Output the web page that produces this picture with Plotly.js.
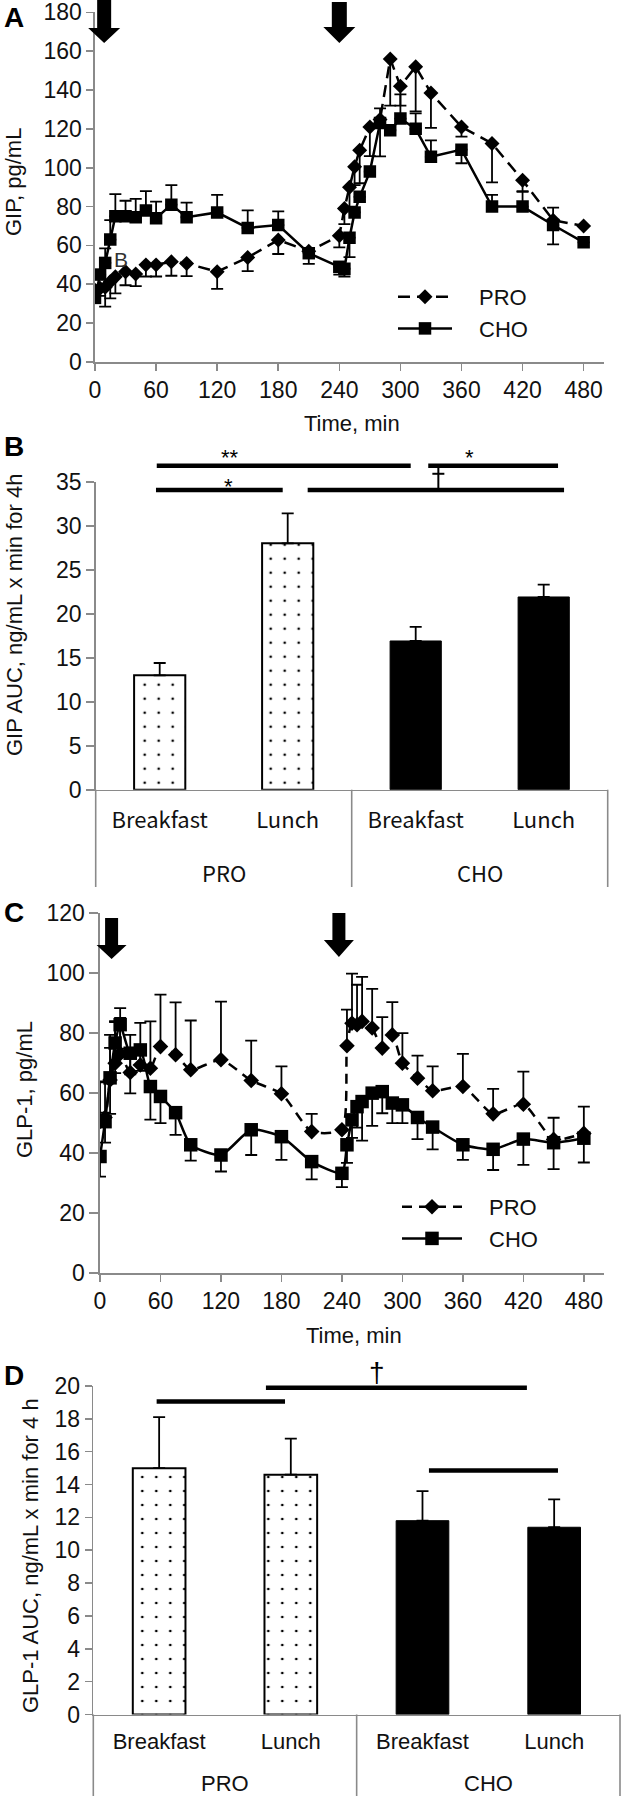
<!DOCTYPE html>
<html><head><meta charset="utf-8">
<script src="https://cdn.plot.ly/plotly-3.0.1.min.js"></script>
<style>html,body{margin:0;padding:0;background:#fff}#chart{width:624px;height:1800px}</style>
</head><body><div id="chart"></div>
<script>
// ------------------ DATA ------------------
const timeMin = [0,5,10,15,20,30,40,50,60,75,90,120,150,180,210,240,245,250,255,260,270,280,290,300,315,330,360,390,420,450,480];

// Panel A: GIP, pg/mL
const gipPRO     = [37,38,38.5,41.3,43.9,46.5,45.3,50,50,51.6,50.7,46.5,53.8,62.8,57,65,79,90,100.5,109,121,124.8,156,142,152,138.5,121,112.5,93.6,73,70];
const gipPROup   = [0,0,0,0,0,0,0,0,0,0,0,0,0,0,0,0,0,0,0,0,0,0,0,0,0,0,0,0,0,6.5,0];
const gipPROdn   = [0,4,10,8.5,8.6,7,6.2,6,6,7.2,6.5,8.9,7,7.2,0,6,8,10,9.5,17,15,19,24,10,23,18,5,20,6,0,0];
const gipCHO     = [33,45,51,63,75,75,74.5,78,74,81,74.5,77,69,70.5,56,49,48,64,77,85,98,123,119.3,125.3,120,105.6,109.3,80,80,70.5,61.6];
const gipCHOup   = [0,0,7.5,10,11.4,8,9.5,10,8.5,10,7.5,9,9,7,0,0,0,0,0,0,0,7.5,0,12.5,8,8.5,0,6,8,0,0];
const gipCHOdn   = [0,0,0,0,0,0,0,0,0,0,0,0,0,0,5.5,4,4,10,0,0,0,0,0,0,0,0,7,0,0,10,0];

// Panel C: GLP-1, pg/mL
const glpPRO     = [50.5,51.8,64.3,69.9,73,66.8,69.3,68.2,75.4,72.7,67.7,71,64.1,59.7,47.1,47.7,75.7,83.2,82.7,83.8,81.6,74.9,79.3,69.9,64.9,60.7,62.1,53,56.2,44.5,46.5];
const glpPROup   = [13,12,15,14,12,12.5,14,15.6,17.3,17.4,16.4,19.4,13.3,9.1,5.9,0,12,16.5,13.3,14.8,13,10.3,10.9,10,7.5,8.1,10.9,8.3,10.9,7.2,8.9];
const glpPROdn   = [0,0,0,0,0,7,0,0,0,0,0,0,0,0,0,0,0,0,0,0,0,0,0,0,0,0,0,0,0,0,0];
const glpCHO     = [38.8,50.4,65,76.6,82.7,73.2,74.3,62.1,58.8,53.4,42.7,39.3,47.7,45.4,37.1,33.2,42.7,51,55.4,57.1,59.9,60.4,56.6,56,51.8,48.6,42.7,41.2,44.6,43.4,44.9];
const glpCHOup   = [0,3,10,7,5.5,0,0,0,0,0,0,0,0,0,0,0,0,0,0,0,0,0,0,0,0,0,0,0,0,0,0];
const glpCHOdn   = [6.7,7,12,10,8,7,7,11,8.9,7.4,5.3,5.5,8.4,7.7,5.9,4.6,6,6,7,13,10.9,7.2,6.7,6.1,7.2,7.4,5,6.9,8.6,8.8,8.1];

// Meal arrows (min)
const mealArrowsA = [9, 240];
const mealArrowsC = [11.5, 237];

// Panels B & D: AUC
const meals = ['Breakfast','Lunch'];
const diets = ['PRO','CHO'];
const gipAucPRO = [13.0, 28.0];
const gipAucPROerr = [1.4, 3.4];
const gipAucCHO = [16.9, 21.9];
const gipAucCHOerr = [1.6, 1.4];
const glpAucPRO = [15.0, 14.6];
const glpAucPROerr = [3.1, 2.2];
const glpAucCHO = [11.8, 11.4];
const glpAucCHOerr = [1.8, 1.7];

// ------------------ LAYOUT HELPERS ------------------
const W = 624, H = 1800;
const FONT = '"Liberation Sans", Arial, Helvetica, sans-serif';
const KFONT = '"Noto Sans CJK KR", "Malgun Gothic", sans-serif';
const GRAY = '#8a8a8a';
const LEG_PAD = '\u2003';   // gap between legend symbol and text

const boxA = {l:95,   r:604,   t:12.3,  b:362};
const boxB = {l:95.7, r:607.7, t:481.7, b:789.7};
const boxC = {l:100,  r:604,   t:912.7, b:1273};
const boxD = {l:93.3, r:620,   t:1386,  b:1714.5};
const rngA = {x:[0,500], y:[0,180]};
const rngB = {x:[-0.5,3.5], y:[0,35]};
const rngC = {x:[0,500], y:[0,120]};
const rngD = {x:[-0.5,3.5], y:[0,20]};

const xd = b => [b.l/W, b.r/W];
const yd = b => [1 - b.b/H, 1 - b.t/H];
const px2x = p => p/W;
const px2y = p => 1 - p/H;
const dataX = (box, rng, v) => box.l + (v - rng.x[0])/(rng.x[1]-rng.x[0])*(box.r-box.l);
const dataY = (box, rng, v) => box.b - (v - rng.y[0])/(rng.y[1]-rng.y[0])*(box.b-box.t);

const baseAxis = {
  showgrid:false, zeroline:false, showline:true, linecolor:GRAY, linewidth:1.6,
  ticks:'outside', ticklen:7, tickwidth:1.6, tickcolor:GRAY, ticklabeloverflow:'allow',
  tickfont:{family:FONT, size:23, color:'#111'}, fixedrange:true
};

const errStyle = (up, dn) => ({type:'data', symmetric:false, array:up, arrayminus:dn, color:'#000', thickness:1.8, width:6});

// ------------------ TRACES ------------------
const traces = [];
// Panel A
traces.push({type:'scatter', mode:'lines+markers', name:LEG_PAD+'PRO', x:timeMin, y:gipPRO, xaxis:'x', yaxis:'y', legend:'legend',
  line:{color:'#000', width:2.5, dash:'12px,7px'}, marker:{symbol:'diamond', size:11.5, color:'#000'},
  error_y:errStyle(gipPROup, gipPROdn)});
traces.push({type:'scatter', mode:'lines+markers', name:LEG_PAD+'CHO', x:timeMin, y:gipCHO, xaxis:'x', yaxis:'y', legend:'legend',
  line:{color:'#000', width:2.5}, marker:{symbol:'square', size:12.5, color:'#000'},
  error_y:errStyle(gipCHOup, gipCHOdn)});
// Panel C
traces.push({type:'scatter', mode:'lines+markers', name:LEG_PAD+'PRO', x:timeMin, y:glpPRO, xaxis:'x3', yaxis:'y3', legend:'legend2',
  line:{color:'#000', width:2.5, dash:'10px,7px', shape:'spline', smoothing:0.6}, marker:{symbol:'diamond', size:12, color:'#000'},
  error_y:errStyle(glpPROup, glpPROdn)});
traces.push({type:'scatter', mode:'lines+markers', name:LEG_PAD+'CHO', x:timeMin, y:glpCHO, xaxis:'x3', yaxis:'y3', legend:'legend2',
  line:{color:'#000', width:2.5, shape:'spline', smoothing:0.6}, marker:{symbol:'square', size:13.5, color:'#000'},
  error_y:errStyle(glpCHOup, glpCHOdn)});

// Bars (B: x2/y2, D: x4/y4)
const posFor = d => meals.map((m, i) => d*meals.length + i);
const patt = {shape:'.', fgcolor:'#000', bgcolor:'#fff', size:14, solidity:0.03, fillmode:'replace'};
function barPair(xa, ya, proVals, proErr, choVals, choErr){
  traces.push({type:'bar', x:posFor(0), y:proVals, width:0.4, xaxis:xa, yaxis:ya, showlegend:false, name:'PRO',
    marker:{color:'#fff', line:{color:'#000', width:2}, pattern:patt},
    error_y:errStyle(proErr, proErr.map(()=>0))});
  traces.push({type:'bar', x:posFor(1), y:choVals, width:0.4, xaxis:xa, yaxis:ya, showlegend:false, name:'CHO',
    marker:{color:'#000', line:{color:'#000', width:1}},
    error_y:errStyle(choErr, choErr.map(()=>0))});
}
barPair('x2','y2', gipAucPRO, gipAucPROerr, gipAucCHO, gipAucCHOerr);
barPair('x4','y4', glpAucPRO, glpAucPROerr, glpAucCHO, glpAucCHOerr);

// ------------------ ANNOTATIONS & SHAPES ------------------
const annotations = [];
const shapes = [];
const txt = (text, xpx, ypx, size, opts={}) => annotations.push(Object.assign({
  text, xref:'paper', yref:'paper', x:px2x(xpx), y:px2y(ypx), showarrow:false,
  xanchor:'center', yanchor:'middle', font:{family:FONT, size, color:'#111'}}, opts));

// Panel letters
txt('<b>A</b>', 14, 17, 28, {font:{family:FONT, size:28, color:'#000'}});
txt('<b>B</b>', 14, 447, 28, {font:{family:FONT, size:28, color:'#000'}});
txt('<b>C</b>', 14, 912, 28, {font:{family:FONT, size:28, color:'#000'}});
txt('<b>D</b>', 14, 1375, 28, {font:{family:FONT, size:28, color:'#000'}});

// Axis titles
txt('GIP, pg/mL', 13, 182, 22, {textangle:-90});
txt('Time, min', 352, 423, 22);
txt('GIP AUC, ng/mL x min for 4h', 14, 615, 22, {textangle:-90});
txt('GLP-1, pg/mL', 24, 1090, 22, {textangle:-90});
txt('Time, min', 354, 1335, 22);
txt('GLP-1 AUC, ng/mL x min for 4 h', 30, 1556, 22, {textangle:-90});

// stray label inside panel A
txt('B', dataX(boxA, rngA, 26), dataY(boxA, rngA, 53), 21, {font:{family:FONT, size:21, color:'#333'}});

// Meal arrows
function arrow(box, rng, t, top, headStart, tip, shaftHalf, headHalf){
  const cx = dataX(box, rng, t);
  const P = (x, y) => px2x(x).toFixed(5) + ',' + px2y(y).toFixed(5);
  const path = 'M' + P(cx-shaftHalf, top) + ' L' + P(cx+shaftHalf, top) + ' L' + P(cx+shaftHalf, headStart) +
    ' L' + P(cx+headHalf, headStart) + ' L' + P(cx, tip) + ' L' + P(cx-headHalf, headStart) +
    ' L' + P(cx-shaftHalf, headStart) + ' Z';
  shapes.push({type:'path', xref:'paper', yref:'paper', path, fillcolor:'#000', line:{width:0}});
}
arrow(boxA, rngA, mealArrowsA[0], 0, 28, 43, 7, 16);
arrow(boxA, rngA, mealArrowsA[1], 2, 27, 43, 7.5, 16);
arrow(boxC, rngC, mealArrowsC[0], 918, 945, 959, 6.5, 15);
arrow(boxC, rngC, mealArrowsC[1], 913, 940, 957, 6.5, 15);

// Category group labels & dividers for bar panels
function groupDecor(box, rng, xa, labelY, dividerBottom, font){
  diets.forEach((d, i) => {
    annotations.push({text:d, xref:xa, yref:'paper', x:i*meals.length + (meals.length-1)/2, y:px2y(labelY),
      showarrow:false, xanchor:'center', yanchor:'middle', font:{family:font, size:22, color:'#111'}});
  });
  for(let k = 0; k <= diets.length; k++){
    const xp = dataX(box, rng, k*meals.length - 0.5);
    shapes.push({type:'line', xref:'paper', yref:'paper', x0:px2x(xp), x1:px2x(xp), y0:px2y(box.b), y1:px2y(dividerBottom),
      line:{color:GRAY, width:1.6}});
  }
}
groupDecor(boxB, rngB, 'x2', 872, 887, KFONT);
groupDecor(boxD, rngD, 'x4', 1783, 1796, FONT);

// Significance bars
function segPx(x0, y0, x1, y1, width){
  shapes.push({type:'line', xref:'paper', yref:'paper', x0:px2x(x0), x1:px2x(x1), y0:px2y(y0), y1:px2y(y1),
    line:{color:'#000', width}});
}
function sigLine(box, rng, x0, x1, y){
  segPx(dataX(box, rng, x0), dataY(box, rng, y), dataX(box, rng, x1), dataY(box, rng, y), 4.5);
}
function sigMark(box, rng, text, x, y, size){
  txt(text, dataX(box, rng, x), dataY(box, rng, y), size, {font:{family:FONT, size, color:'#000'}});
}
// dagger drawn as a stem joining two bars with a short cross-stroke
function daggerStem(box, rng, x, yTop, yBottom, yCross, halfCross){
  const cx = dataX(box, rng, x);
  segPx(cx, dataY(box, rng, yTop), cx, dataY(box, rng, yBottom), 2);
  segPx(cx-halfCross, dataY(box, rng, yCross), cx+halfCross, dataY(box, rng, yCross), 2);
}
sigLine(boxB, rngB, -0.023, 1.961, 36.82);
sigLine(boxB, rngB, 2.098, 3.112, 36.82);
sigLine(boxB, rngB, -0.029, 0.961, 34.06);
sigLine(boxB, rngB, 1.156, 3.159, 34.06);
sigMark(boxB, rngB, '**', 0.549, 37.7, 22);
sigMark(boxB, rngB, '*', 2.424, 37.8, 22);
sigMark(boxB, rngB, '*', 0.534, 34.5, 22);
daggerStem(boxB, rngB, 2.177, 36.82, 34.06, 35.9, 6);

sigLine(boxD, rngD, -0.019, 0.956, 19.05);
sigLine(boxD, rngD, 0.811, 2.793, 19.90);
sigLine(boxD, rngD, 2.049, 3.029, 14.85);
sigMark(boxD, rngD, '†', 1.654, 20.85, 28);

// ------------------ AXES ------------------
const catAxis = (box, rng, anchor, font, standoff) => Object.assign({}, baseAxis, {
  domain:xd(box), range:rng.x, anchor, ticks:'', tickmode:'array',
  tickvals:diets.flatMap((d, i) => meals.map((m, j) => i*meals.length + j)),
  ticktext:diets.flatMap(() => meals),
  tickfont:{family:font, size:22, color:'#111'}, ticklabelstandoff:standoff
});

const layout = {
  width:W, height:H, margin:{l:0, r:0, t:0, b:0},
  paper_bgcolor:'#fff', plot_bgcolor:'rgba(0,0,0,0)', showlegend:true, barmode:'overlay',
  xaxis: Object.assign({}, baseAxis, {domain:xd(boxA), range:rngA.x, anchor:'y', tickmode:'linear', tick0:0, dtick:60}),
  yaxis: Object.assign({}, baseAxis, {domain:yd(boxA), range:rngA.y, anchor:'x', tickmode:'linear', tick0:0, dtick:20}),
  xaxis2: catAxis(boxB, rngB, 'y2', KFONT, 10),
  yaxis2: Object.assign({}, baseAxis, {domain:yd(boxB), range:rngB.y, anchor:'x2', tickmode:'linear', tick0:0, dtick:5, ticklen:8}),
  xaxis3: Object.assign({}, baseAxis, {domain:xd(boxC), range:rngC.x, anchor:'y3', tickmode:'linear', tick0:0, dtick:60}),
  yaxis3: Object.assign({}, baseAxis, {domain:yd(boxC), range:rngC.y, anchor:'x3', tickmode:'linear', tick0:0, dtick:20, ticklen:9}),
  xaxis4: catAxis(boxD, rngD, 'y4', FONT, 6),
  yaxis4: Object.assign({}, baseAxis, {domain:yd(boxD), range:rngD.y, anchor:'x4', tickmode:'linear', tick0:0, dtick:2}),
  legend: {x:px2x(393), y:px2y(276), xanchor:'left', yanchor:'top', bgcolor:'rgba(0,0,0,0)',
    font:{family:FONT, size:22, color:'#111'}, itemwidth:54, tracegroupgap:0},
  legend2: {x:px2x(397), y:px2y(1186), xanchor:'left', yanchor:'top', bgcolor:'rgba(0,0,0,0)',
    font:{family:FONT, size:22, color:'#111'}, itemwidth:60, tracegroupgap:0},
  annotations, shapes
};

Plotly.newPlot('chart', traces, layout, {displayModeBar:false, staticPlot:true});
</script>
</body></html>
